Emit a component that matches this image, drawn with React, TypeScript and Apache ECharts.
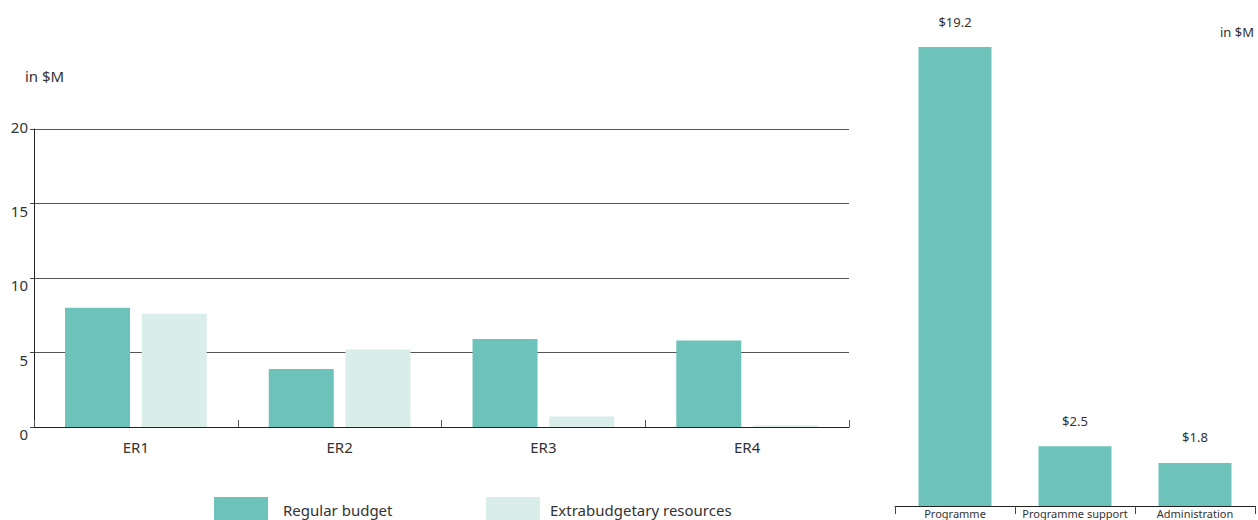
import React, { useEffect, useRef } from "react";
import * as echarts from "echarts";

const erCategories = ["ER1", "ER2", "ER3", "ER4"];
const regularBudget = [8.0, 3.9, 5.9, 5.8];
const extrabudgetary = [7.6, 5.2, 0.7, 0.1];
const yTicks = { min: 0, max: 20, interval: 5 };

const costCategories = ["Programme", "Programme support", "Administration"];
const costValues = [19.2, 2.5, 1.8];

const TEAL = "#6dc3b9";
const LIGHT = "#d9eeeb";
const FONT = "'Noto Sans', 'Open Sans', sans-serif";
const TXT = "#333";

export default function App() {
  const ref = useRef<HTMLDivElement>(null);
  useEffect(() => {
    if (!ref.current) return;
    const chart = echarts.init(ref.current, undefined, { renderer: "svg" });
    chart.setOption({
      animation: false,
      textStyle: { fontFamily: FONT, color: TXT },
      grid: [
        { left: 34, top: 129, width: 815, height: 298 },
        { left: 895, top: 47, width: 360, height: 459 },
      ],
      legend: [
        {
          data: ["Regular budget"],
          left: 214,
          top: 497,
          padding: 0,
          itemWidth: 54,
          itemHeight: 26,
          icon: "rect",
          textStyle: { fontSize: 15, color: TXT, fontFamily: FONT, padding: [0, 0, 0, 10] },
        },
        {
          data: ["Extrabudgetary resources"],
          left: 486,
          top: 497,
          padding: 0,
          itemWidth: 54,
          itemHeight: 26,
          icon: "rect",
          textStyle: { fontSize: 15, color: TXT, fontFamily: FONT, padding: [0, 0, 0, 5] },
        },
      ],
      xAxis: [
        {
          type: "category",
          gridIndex: 0,
          data: erCategories,
          axisLine: { show: true, lineStyle: { color: "#222", width: 1 } },
          axisTick: { show: true, inside: true, length: 7, lineStyle: { color: "#555" } },
          axisLabel: { fontSize: 15, color: TXT, margin: 12, fontFamily: FONT },
        },
        {
          type: "category",
          gridIndex: 1,
          data: costCategories,
          axisLine: { show: true, lineStyle: { color: "#222", width: 1 } },
          axisTick: { show: true, inside: false, length: 8, lineStyle: { color: "#444" } },
          axisLabel: {
            fontSize: 11,
            lineHeight: 12,
            color: TXT,
            margin: 1,
            interval: 0,
            fontFamily: FONT,
          },
        },
      ],
      yAxis: [
        {
          type: "value",
          gridIndex: 0,
          min: yTicks.min,
          max: yTicks.max,
          interval: yTicks.interval,
          axisLine: { show: true, lineStyle: { color: "#222", width: 1 } },
          axisTick: { show: true, length: 4, lineStyle: { color: "#444" } },
          axisLabel: {
            fontSize: 15,
            color: TXT,
            margin: 6,
            fontFamily: FONT,
            formatter: (v: number) => (v === yTicks.max ? "{t|" + v + "}" : "{n|" + v + "}"),
            rich: {
              t: { fontSize: 15, color: TXT, fontFamily: FONT, padding: [0, 0, 4, 0] },
              n: { fontSize: 15, color: TXT, fontFamily: FONT, padding: [14, 0, 0, 0] },
            },
          },
          splitLine: { show: true, lineStyle: { color: "#555", width: 1 } },
        },
        {
          type: "value",
          gridIndex: 1,
          min: 0,
          max: 19.2,
          show: false,
          splitLine: { show: false },
        },
      ],
      graphic: [
        {
          type: "text",
          left: 25,
          top: 68,
          style: { text: "in $M", fontSize: 15, fill: TXT, fontFamily: FONT },
        },
        {
          type: "text",
          left: 1220,
          top: 25,
          style: { text: "in $M", fontSize: 13, fill: TXT, fontFamily: FONT },
        },
      ],
      series: [
        {
          name: "Regular budget",
          type: "bar",
          xAxisIndex: 0,
          yAxisIndex: 0,
          data: regularBudget,
          barWidth: 65,
          barGap: "18%",
          itemStyle: { color: TEAL },
        },
        {
          name: "Extrabudgetary resources",
          type: "bar",
          xAxisIndex: 0,
          yAxisIndex: 0,
          data: extrabudgetary,
          barWidth: 65,
          barGap: "18%",
          itemStyle: { color: LIGHT },
        },
        {
          name: "Costs",
          type: "bar",
          xAxisIndex: 1,
          yAxisIndex: 1,
          data: costValues,
          barWidth: 73,
          itemStyle: { color: TEAL },
          label: {
            show: true,
            position: "top",
            distance: 19,
            fontSize: 13,
            color: TXT,
            fontFamily: FONT,
            formatter: (p: any) => "$" + p.value.toFixed(1),
          },
        },
      ],
    });
    return () => chart.dispose();
  }, []);
  return (
    <div
      ref={ref}
      style={{ position: "absolute", left: 0, top: 0, width: 1258, height: 520 }}
    />
  );
}
